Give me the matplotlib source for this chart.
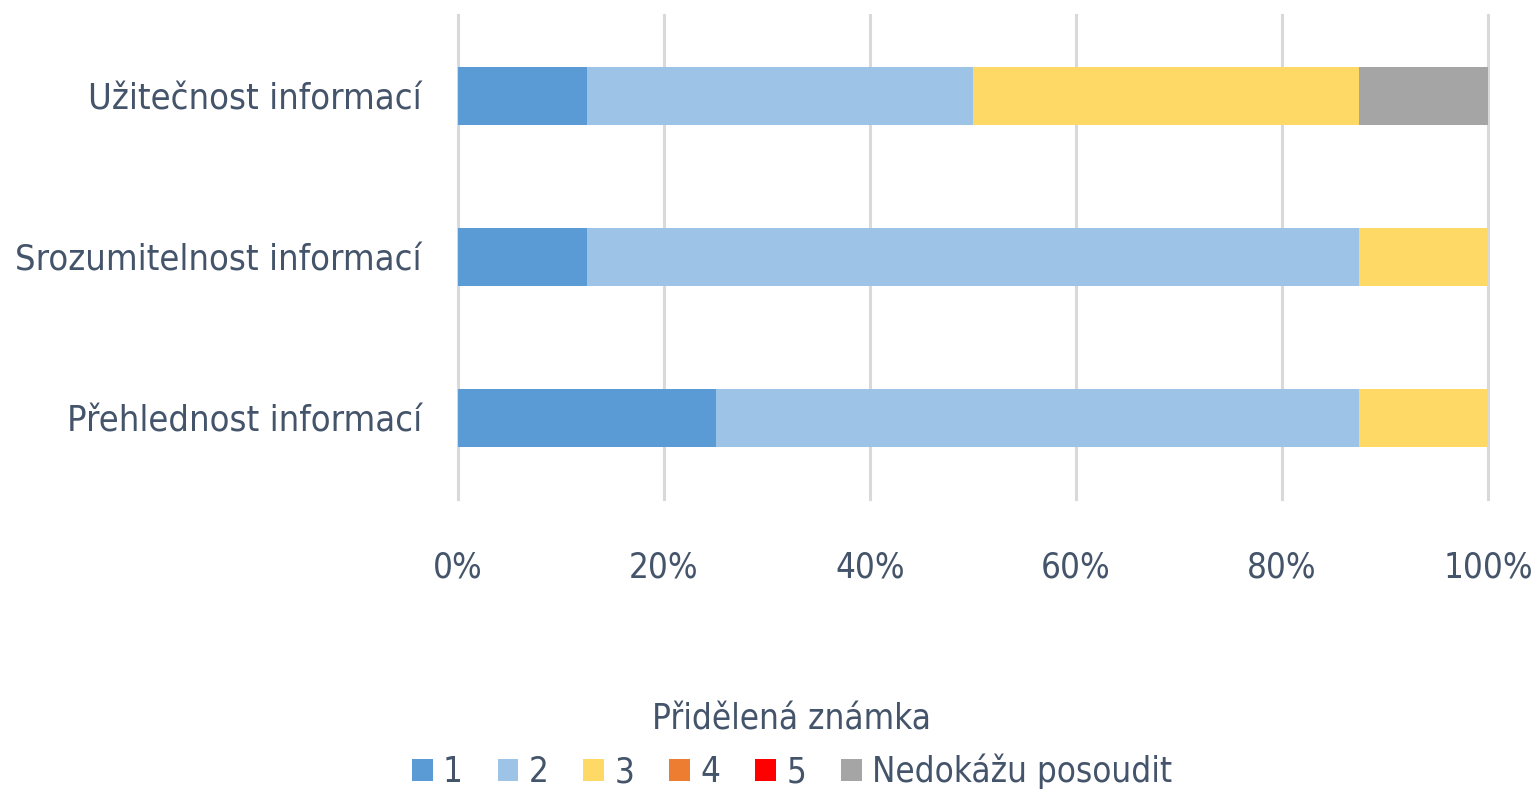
import matplotlib
matplotlib.use("Agg")
import matplotlib.pyplot as plt
from matplotlib.patches import Patch
import numpy as np

categories = ["Přehlednost informací", "Srozumitelnost informací", "Užitečnost informací"]
series_names = ["1", "2", "3", "4", "5", "Nedokážu posoudit"]
v1 = [25.0, 12.5, 12.5]
v2 = [62.5, 75.0, 37.5]
v3 = [12.5, 12.5, 37.5]
v4 = [0.0, 0.0, 0.0]
v5 = [0.0, 0.0, 0.0]
v6 = [0.0, 0.0, 12.5]
xticks = [0, 20, 40, 60, 80, 100]
xtick_labels = ["0%", "20%", "40%", "60%", "80%", "100%"]
legend_title = "Přidělená známka"

colors = ["#5B9BD5", "#9DC3E6", "#FFD966", "#ED7D31", "#FF0000", "#A5A5A5"]
text_color = "#44546A"

plt.rcParams['font.family'] = ['DejaVu Sans']
plt.rcParams['font.stretch'] = 'condensed'

fig = plt.figure(figsize=(15.4, 7.95), dpi=100)
ax = fig.add_axes([458/1540, 1-499/795, 1030/1540, 484/795])

y = np.arange(len(categories))
left = np.zeros(len(categories))
for vals, c, name in zip([v1, v2, v3, v4, v5, v6], colors, series_names):
    ax.barh(y, vals, left=left, height=0.36, color=c, label=name, zorder=3)
    left += np.array(vals)

ax.set_xlim(0, 100)
ax.set_ylim(-0.5, 2.5)
ax.set_xticks(xticks)
ax.set_xticklabels(xtick_labels)
ax.set_yticks(y)
ax.set_yticklabels(categories, fontsize=26)
ax.grid(axis='x', color='#D9D9D9', linewidth=2.2, zorder=0)
for gl in ax.get_xgridlines():
    gl.set_clip_on(False)
for s in ax.spines.values():
    s.set_visible(False)
ax.tick_params(axis='both', length=0, colors=text_color)
ax.tick_params(axis='x', pad=37, labelsize=25)
ax.tick_params(axis='y', pad=26, labelsize=26)

handles = [Patch(facecolor=c, edgecolor='none') for c in colors]
leg = fig.legend(handles, series_names, loc='center', bbox_to_anchor=(792/1540, 1-746/795),
                 ncol=6, frameon=False, title=legend_title, fontsize=25, title_fontsize=25,
                 handlelength=0.6, handleheight=0.6, handletextpad=0.3, columnspacing=1.0,
                 labelcolor=text_color, borderaxespad=0, labelspacing=0.5)
leg.get_title().set_color(text_color)

fig.savefig("out.png", dpi=100)
